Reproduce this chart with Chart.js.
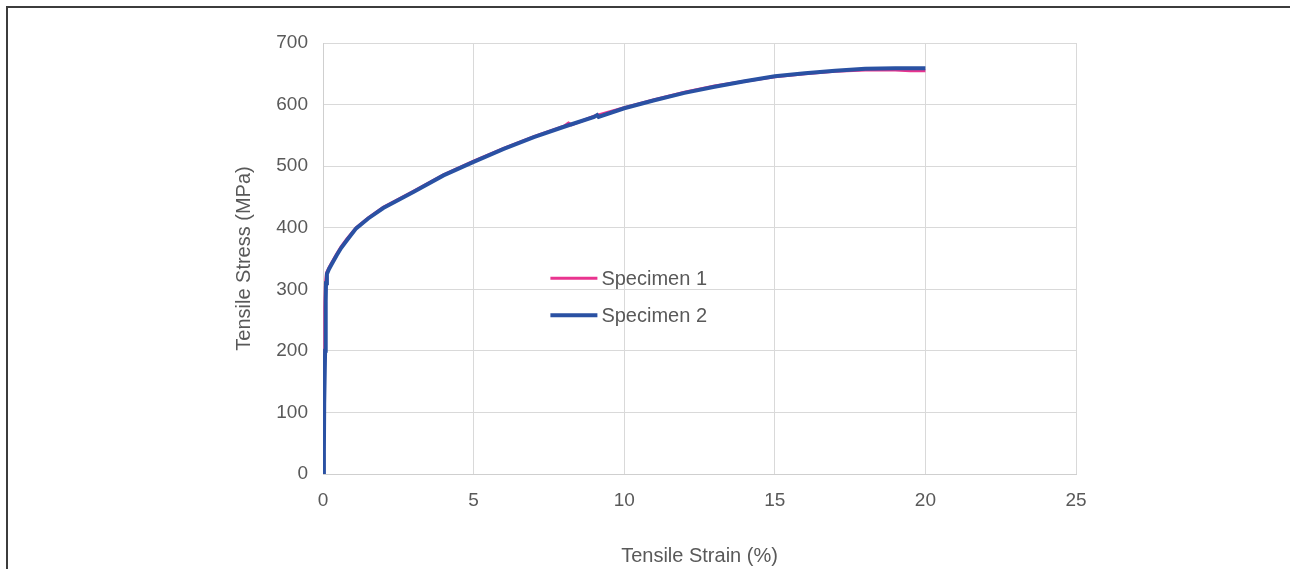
<!DOCTYPE html>
<html>
<head>
<meta charset="utf-8">
<script src="https://cdn.jsdelivr.net/npm/chart.js@4/dist/chart.umd.min.js"></script>
<style>
  html, body { margin: 0; padding: 0; background: #fff; }
  #wrap { position: relative; width: 1290px; height: 569px; overflow: hidden; }
  #frame { position: absolute; left: 6px; top: 6px; width: 1300px; height: 600px;
           border-left: 2px solid #3c3c3c; border-top: 2px solid #3c3c3c; }
  #chartBox { position: absolute; left: 0; top: 0; width: 1290px; height: 569px; }
</style>
</head>
<body>
<div id="wrap">
  <div id="frame"></div>
  <div id="chartBox"><canvas id="tensile"></canvas></div>
</div>
<script>
// Specimen 1 (pink) - strain in %, stress in MPa
const s1Strain = [0, 0.02, 0.04, 0.06, 0.08, 0.12, 0.2, 0.3, 0.45, 0.6, 0.8, 1.1, 1.5, 2, 2.5, 3, 4, 5, 6, 7, 8, 8.15, 8.25, 9, 10, 11, 12, 13, 14, 15, 16, 17, 18, 19, 19.5, 20];
const s1Stress = [0, 95, 190, 270, 310, 327, 335, 344, 357, 369, 382, 400, 416, 433, 446, 459, 486, 508, 529, 548, 565, 570, 567, 581, 595, 608, 620, 630, 638, 645, 650, 654, 656, 656, 655, 655];

// Specimen 2 (blue)
const s2Strain = [0, 0.03, 0.04, 0.07, 0.09, 0.1, 0.13, 0.2, 0.3, 0.45, 0.6, 0.8, 1.1, 1.5, 2, 2.5, 3, 4, 5, 6, 7, 8, 9, 9.1, 9.15, 10, 11, 12, 13, 14, 15, 16, 17, 18, 19, 20];
const s2Stress = [0, 35, 115, 200, 280, 310, 325, 333, 342, 355, 367, 380, 399, 415, 432, 445, 458, 485, 507, 528, 547, 564, 580, 583, 580, 594, 607, 619, 629, 638, 646, 651, 655, 658, 659, 659];

const seriesNames = ['Specimen 1', 'Specimen 2'];
const xTitle = 'Tensile Strain (%)';
const yTitle = 'Tensile Stress (MPa)';

const textColor = '#595959';
const gridColor = '#d9d9d9';
const pink = '#e9348f';
const blue = '#2a51a3';

function toPoints(xs, ys) {
  return xs.map((x, i) => ({ x: x, y: ys[i] }));
}

// legend drawn inside the plot area, like the original
const innerLegend = {
  id: 'innerLegend',
  afterDraw(chart) {
    const ctx = chart.ctx;
    const x = chart.scales.x;
    const y = chart.scales.y;
    const left = x.getPixelForValue(7.55);
    const rows = [y.getPixelForValue(318), y.getPixelForValue(258)];
    ctx.save();
    ctx.font = '20px "Liberation Sans", Arial, sans-serif';
    ctx.textBaseline = 'middle';
    chart.data.datasets.forEach((ds, i) => {
      ctx.strokeStyle = ds.borderColor;
      ctx.lineWidth = i === 0 ? 3 : 4;
      ctx.beginPath();
      ctx.moveTo(left, rows[i]);
      ctx.lineTo(left + 47, rows[i]);
      ctx.stroke();
      ctx.fillStyle = textColor;
      ctx.fillText(ds.label, left + 51, rows[i] + 1);
    });
    ctx.restore();
  }
};

const ctx = document.getElementById('tensile').getContext('2d');
new Chart(ctx, {
  type: 'line',
  data: {
    datasets: [
      {
        label: seriesNames[0],
        data: toPoints(s1Strain, s1Stress),
        borderColor: pink,
        borderWidth: 3,
        pointRadius: 0,
        tension: 0,
        order: 2
      },
      {
        label: seriesNames[1],
        data: toPoints(s2Strain, s2Stress),
        borderColor: blue,
        borderWidth: 4,
        pointRadius: 0,
        tension: 0,
        order: 1
      }
    ]
  },
  options: {
    responsive: true,
    maintainAspectRatio: false,
    animation: false,
    layout: { padding: { top: 43, right: 214, bottom: 0, left: 0 } },
    plugins: {
      legend: { display: false },
      tooltip: { enabled: false }
    },
    scales: {
      x: {
        type: 'linear',
        min: 0,
        max: 25,
        afterFit: (s) => { s.height = 95; },
        ticks: {
          stepSize: 5,
          padding: 15,
          color: textColor,
          font: { family: '"Liberation Sans", Arial, sans-serif', size: 19 }
        },
        grid: { color: gridColor, lineWidth: 1, drawTicks: false },
        border: { color: '#cfcfcf', width: 1 },
        title: {
          display: true,
          text: xTitle,
          color: textColor,
          font: { family: '"Liberation Sans", Arial, sans-serif', size: 20 },
          padding: { top: 0, bottom: 1 }
        }
      },
      y: {
        min: 0,
        max: 700,
        afterFit: (s) => { s.width = 323; },
        ticks: {
          stepSize: 100,
          padding: 15,
          color: textColor,
          font: { family: '"Liberation Sans", Arial, sans-serif', size: 19 }
        },
        grid: { color: gridColor, lineWidth: 1, drawTicks: false },
        border: { color: '#cfcfcf', width: 1 },
        title: {
          display: true,
          text: yTitle,
          color: textColor,
          font: { family: '"Liberation Sans", Arial, sans-serif', size: 20 },
          padding: { top: 232, bottom: 0 }
        }
      }
    }
  },
  plugins: [innerLegend]
});
</script>
</body>
</html>
